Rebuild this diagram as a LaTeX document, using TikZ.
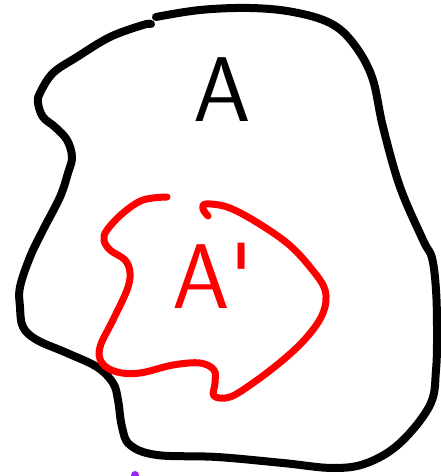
\documentclass[tikz,border=0pt]{standalone}
\usepackage{tikz}
\usetikzlibrary{positioning}
\definecolor{penred}{RGB}{255,0,0}
\definecolor{penpurple}{RGB}{150,40,240}

\begin{document}
\begin{tikzpicture}[
  x=1pt,y=-1pt,
  outer/.style={draw=black,line width=8pt,line cap=round,line join=round},
  inner/.style={draw=penred,line width=7pt,line cap=round,line join=round},
  setlbl/.style={inner sep=0pt,font=\fontsize{92}{92}\selectfont\sffamily}]
\useasboundingbox (0,0) rectangle (440,476);

% ---- set A ----
\draw[outer] plot[smooth,tension=0.6] coordinates {
  (156,17) (200,10) (250,8) (293,12) (330,23) (353,43) (372,77)
  (383,127) (400,187) (423,240) (432,258) (436,290) (437,330) (436,370)
  (430,405) (400,443) (367,463) (333,468) (283,463) (217,457) (157,455)
  (130,445) (122,427) (118,400) (113,383) (97,367) (67,353) (37,340)
  (23,327) (20,307) (20,287) (30,257) (43,230) (60,197) (68,173)
  (72,157) (67,140) (55,127) (43,117) (38,103) (40,93) (53,73)
  (77,57) (110,37) (143,25) (151,24)};
\node[setlbl] (lblA) at (222,90) {A};

% ---- subset A' ----
\draw[inner] plot[smooth,tension=0.6] coordinates {
  (167,197) (143,200) (123,213) (107,230) (104,240) (110,250) (125,260)
  (130,273) (127,290) (113,320) (100,347) (102,363) (117,372) (140,373)
  (173,365) (200,363) (214,370) (215,383) (214,396) (230,397) (253,383)
  (283,360) (307,337) (323,313) (325,290) (310,267) (287,243) (253,220)
  (227,207) (206,204) (203,209) (208,216)};
\node[setlbl,text=penred,anchor=base west] (lblAp) at (172,308) {A\textquotesingle};

% ---- stray dot ----
\fill[penpurple] (135,475) circle (4);
\end{tikzpicture}
\end{document}
